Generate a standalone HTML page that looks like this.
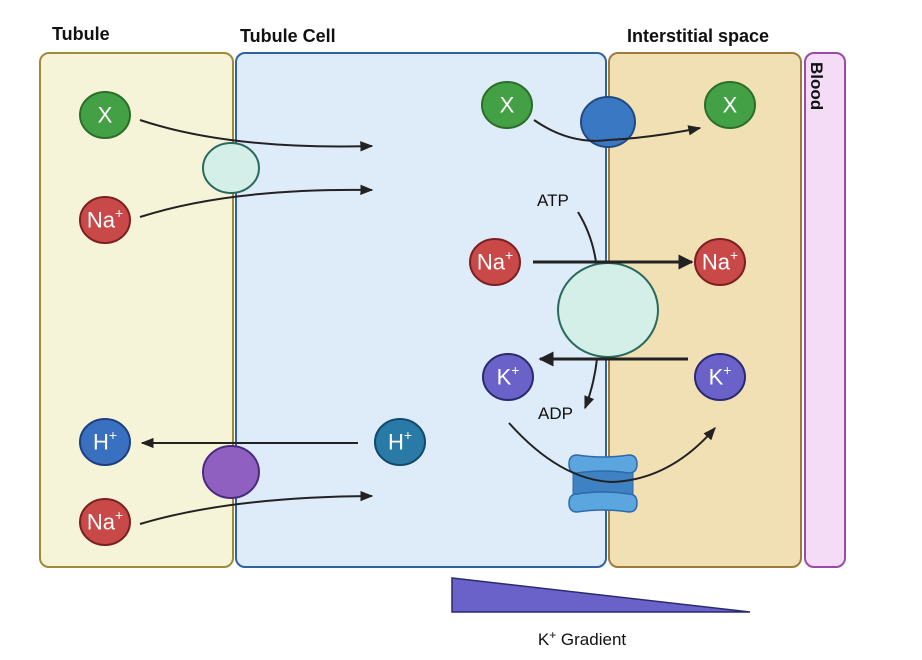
<!DOCTYPE html>
<html><head><meta charset="utf-8"><style>
body{margin:0;background:#fff}
svg{display:block}
text{font-family:"Liberation Sans",sans-serif}
.ion{fill:#fff;font-size:22px;text-anchor:middle;dominant-baseline:central}
.sup{font-size:14px}
</style></head><body>
<svg width="922" height="660" viewBox="0 0 922 660" xmlns="http://www.w3.org/2000/svg">
<defs>
<marker id="a" viewBox="0 0 10 10" refX="9" refY="5" markerWidth="5" markerHeight="5" orient="auto"><path d="M0,0 L10,5 L0,10 z" fill="#222"/></marker>
<marker id="b" viewBox="0 0 10 10" refX="9" refY="5" markerWidth="6.5" markerHeight="6.5" orient="auto"><path d="M0,1 L10,5 L0,9 z" fill="#222"/></marker>
</defs>
<rect width="922" height="660" fill="#fff"/>
<rect x="40" y="53" width="193" height="514" rx="9" fill="#f6f4d8" stroke="#a08a3a" stroke-width="2"/>
<rect x="236" y="53" width="370" height="514" rx="9" fill="#deebf8" stroke="#2e63a0" stroke-width="2"/>
<rect x="609" y="53" width="192" height="514" rx="9" fill="#f1e0b4" stroke="#a07a3a" stroke-width="2"/>
<rect x="805" y="53" width="40" height="514" rx="9" fill="#f4dcf6" stroke="#9a4aa8" stroke-width="2"/>
<text x="52" y="40" font-size="18" font-weight="bold" fill="#111">Tubule</text>
<text x="240" y="42" font-size="18" font-weight="bold" fill="#111">Tubule Cell</text>
<text x="627" y="42" font-size="18" font-weight="bold" fill="#111">Interstitial space</text>
<text transform="translate(811,62) rotate(90)" font-size="17" font-weight="bold" fill="#111">Blood</text>

<ellipse cx="231" cy="168" rx="28" ry="25" fill="#d4eee8" stroke="#2a6a5e" stroke-width="2"/>
<ellipse cx="608" cy="122" rx="27" ry="25" fill="#3a78c4" stroke="#224a80" stroke-width="2"/>
<ellipse cx="608" cy="310" rx="50" ry="47" fill="#d4eee8" stroke="#2a6a5e" stroke-width="2"/>
<ellipse cx="231" cy="472" rx="28" ry="26" fill="#9060c0" stroke="#4a2a80" stroke-width="2"/>
<rect x="573" y="470" width="60" height="30" fill="#3f82c4" stroke="#2e6aa8"/>
<path d="M577,455 Q603,459 629,455 Q637,455 637,464 Q637,473 629,473 Q603,469 577,473 Q569,473 569,464 Q569,455 577,455z" fill="#5ca6e0" stroke="#2e6aa8" stroke-width="1.5"/>
<path d="M577,494 Q603,490 629,494 Q637,494 637,503 Q637,512 629,512 Q603,508 577,512 Q569,512 569,503 Q569,494 577,494z" fill="#5ca6e0" stroke="#2e6aa8" stroke-width="1.5"/>

<g fill="none" stroke="#222" stroke-width="2">
<path d="M140,120 Q230,150 372,146" marker-end="url(#b)"/>
<path d="M140,217 Q230,188 372,190" marker-end="url(#b)"/>
<path d="M358,443 L142,443" marker-end="url(#b)"/>
<path d="M140,524 Q230,497 372,496" marker-end="url(#b)"/>
<path d="M534,120 Q570,145 608,140 Q650,138 700,128" marker-end="url(#b)"/>
<path d="M533,262 L692,262" stroke-width="3" marker-end="url(#a)"/>
<path d="M688,359 L540,359" stroke-width="3" marker-end="url(#a)"/>
<path d="M578,212 Q592,235 596,262"/>
<path d="M597,359 Q594,385 585,408" marker-end="url(#b)"/>
<path d="M509,423 Q560,480 612,482 Q670,480 715,428" marker-end="url(#b)"/>
</g>
<text x="537" y="206" font-size="17" fill="#111">ATP</text>
<text x="538" y="419" font-size="17" fill="#111">ADP</text>

<g stroke-width="2">
<ellipse cx="105" cy="115" rx="25" ry="23" fill="#44a044" stroke="#2a6e2a"/>
<ellipse cx="105" cy="220" rx="25" ry="23" fill="#c94848" stroke="#7a2020"/>
<ellipse cx="105" cy="442" rx="25" ry="23" fill="#3a70c0" stroke="#1e3e80"/>
<ellipse cx="105" cy="522" rx="25" ry="23" fill="#c94848" stroke="#7a2020"/>
<ellipse cx="400" cy="442" rx="25" ry="23" fill="#2a7aa8" stroke="#124a6a"/>
<ellipse cx="507" cy="105" rx="25" ry="23" fill="#44a044" stroke="#2a6e2a"/>
<ellipse cx="730" cy="105" rx="25" ry="23" fill="#44a044" stroke="#2a6e2a"/>
<ellipse cx="495" cy="262" rx="25" ry="23" fill="#c94848" stroke="#7a2020"/>
<ellipse cx="720" cy="262" rx="25" ry="23" fill="#c94848" stroke="#7a2020"/>
<ellipse cx="508" cy="377" rx="25" ry="23" fill="#6a62c8" stroke="#2a2a70"/>
<ellipse cx="720" cy="377" rx="25" ry="23" fill="#6a62c8" stroke="#2a2a70"/>
</g>
<text class="ion" x="105" y="115">X</text>
<text class="ion" x="105" y="220">Na<tspan class="sup" dy="-7">+</tspan></text>
<text class="ion" x="105" y="442">H<tspan class="sup" dy="-7">+</tspan></text>
<text class="ion" x="105" y="522">Na<tspan class="sup" dy="-7">+</tspan></text>
<text class="ion" x="400" y="442">H<tspan class="sup" dy="-7">+</tspan></text>
<text class="ion" x="507" y="105">X</text>
<text class="ion" x="730" y="105">X</text>
<text class="ion" x="495" y="262">Na<tspan class="sup" dy="-7">+</tspan></text>
<text class="ion" x="720" y="262">Na<tspan class="sup" dy="-7">+</tspan></text>
<text class="ion" x="508" y="377">K<tspan class="sup" dy="-7">+</tspan></text>
<text class="ion" x="720" y="377">K<tspan class="sup" dy="-7">+</tspan></text>

<polygon points="452,578 452,612 750,612" fill="#6a62c8" stroke="#2a2a70" stroke-width="1.5"/>
<text x="582" y="645" font-size="17" fill="#111" text-anchor="middle">K<tspan font-size="12" dy="-6">+</tspan><tspan dy="6"> Gradient</tspan></text>
</svg>
</body></html>
